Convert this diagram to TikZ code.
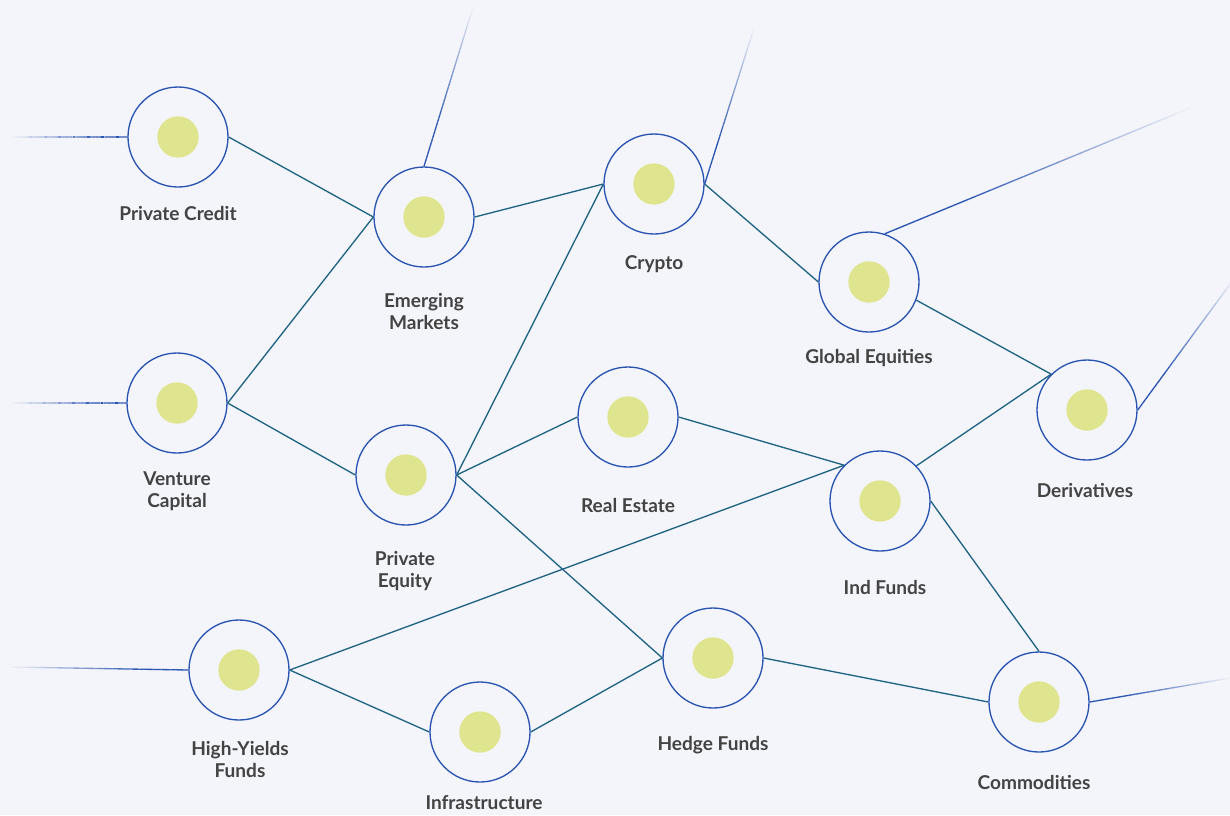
\documentclass[tikz,border=0pt]{standalone}
\usepackage{fontspec}
\setmainfont{Lato}
\usepackage{xcolor}
\usetikzlibrary{positioning, calc}

\definecolor{bgcol}{HTML}{F4F5FA}
\definecolor{ringblue}{HTML}{2A54B2}
\definecolor{linkteal}{HTML}{1F6483}
\definecolor{dotgreen}{HTML}{DFE58E}
\definecolor{textgray}{HTML}{434343}

% line that fades out towards its free end
\newcommand{\fadeline}[2]{%
  \foreach \i in {0,...,39}{%
    \pgfmathsetmacro\ta{\i/40}%
    \pgfmathsetmacro\tb{(\i+1)/40}%
    \pgfmathtruncatemacro\pct{min(100,100*(1-\ta)/0.75)}%
    \draw[ringblue!\pct!bgcol, line width=1pt] ($(#1)!\ta!(#2)$) -- ($(#1)!\tb!(#2)$);
  }}

\begin{document}
\begin{tikzpicture}[x=0.75pt, y=-0.75pt,
    asset/.style={circle, draw=ringblue, line width=1pt, fill=bgcol, minimum size=75pt, inner sep=0pt},
    dot/.style={circle, fill=dotgreen, minimum size=31pt, inner sep=0pt},
    link/.style={draw=linkteal, line width=1pt},
    lbl/.style={font=\bfseries\fontsize{14.3}{16.5}\selectfont, text=textgray, align=center}]
    % background and page size
    \fill[bgcol] (0,0) rectangle (1230,815);
    \useasboundingbox (0,0) rectangle (1230,815);

    % asset nodes
    \node[asset] (pc) at (178,137) {};
    \node[asset] (em) at (424,217) {};
    \node[asset] (crypto) at (654,184) {};
    \node[asset] (ge) at (869,282) {};
    \node[asset] (deriv) at (1087,410) {};
    \node[asset] (vc) at (177,403) {};
    \node[asset] (pe) at (406,475) {};
    \node[asset] (re) at (628,417) {};
    \node[asset] (indf) at (880,501) {};
    \node[asset] (hf) at (713,658) {};
    \node[asset] (comm) at (1039,702) {};
    \node[asset] (hy) at (239,670) {};
    \node[asset] (infra) at (480,732) {};
    \foreach \n in {pc, em, crypto, ge, deriv, vc, pe, re, indf, hf, comm, hy, infra}
      \node[dot] at (\n) {};

    % labels
    \node[lbl] (pcLbl) at (178,213) {Private Credit};
    \node[lbl] (emLbl) at (424,311) {Emerging\\Markets};
    \node[lbl] (cryptoLbl) at (654,264) {Crypto};
    \node[lbl] (geLbl) at (869,358) {Global Equities};
    \node[lbl] (derivLbl) at (1085,490) {Derivatives};
    \node[lbl] (vcLbl) at (177,491) {Venture\\Capital};
    \node[lbl] (peLbl) at (405,571) {Private\\Equity};
    \node[lbl] (reLbl) at (628,505) {Real Estate};
    \node[lbl] (indfLbl) at (885,587) {Ind Funds};
    \node[lbl] (hfLbl) at (713,745) {Hedge Funds};
    \node[lbl] (commLbl) at (1034,782) {Commodities};
    \node[lbl] (hyLbl) at (240,759) {High-Yields\\Funds};
    \node[lbl] (infraLbl) at (484,803) {Infrastructure};

    % links between assets
    \draw[link] (pc.east) -- (em.west);
    \draw[link] (vc.east) -- (em.west);
    \draw[link] (vc.east) -- (pe.west);
    \draw[link] (em.east) -- (crypto.west);
    \draw[link] (pe.east) -- (crypto.west);
    \draw[link] (pe.east) -- (re.west);
    \draw[link] (pe.east) -- (hf.west);
    \draw[link] (crypto.east) -- (ge.west);
    \draw[link] (ge.-21) -- (deriv.135);
    \draw[link] (re.east) -- (indf.135);
    \draw[link] (hy.east) -- (indf.135);
    \draw[link] (indf.44) -- (deriv.135);
    \draw[link] (indf.east) -- (comm.north);
    \draw[link] (hf.east) -- (comm.west);
    \draw[link] (hy.east) -- (infra.west);
    \draw[link] (infra.east) -- (hf.west);

    % loose ends
    \coordinate (pcEnd) at (12,137);
    \coordinate (vcEnd) at (12,403);
    \coordinate (hyEnd) at (10,667);
    \coordinate (emEnd) at (473,7);
    \coordinate (cryptoEnd) at (754,28);
    \coordinate (geEnd) at (1190,108);
    \coordinate (derivEnd) at (1236,276);
    \coordinate (commEnd) at (1230,678);
    \fadeline{pc.west}{pcEnd}
    \fadeline{vc.west}{vcEnd}
    \fadeline{hy.west}{hyEnd}
    \fadeline{em.north}{emEnd}
    \fadeline{crypto.east}{cryptoEnd}
    \fadeline{ge.72}{geEnd}
    \fadeline{deriv.east}{derivEnd}
    \fadeline{comm.east}{commEnd}
\end{tikzpicture}
\end{document}
